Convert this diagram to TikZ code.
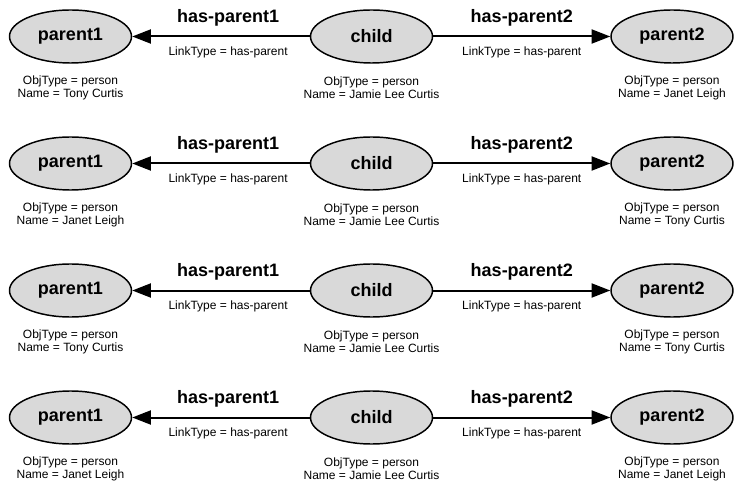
\documentclass[tikz,border=0pt]{standalone}
\usepackage{fontspec}
\setmainfont{Liberation Sans}
\usetikzlibrary{shapes.geometric, arrows.meta}

\begin{document}
\begin{tikzpicture}[x=0.75pt, y=-0.75pt,
	obj/.style={ellipse, draw, line width=1.1pt, fill=black!15, minimum width=91.5pt, minimum height=39.75pt, inner sep=0pt, font=\fontsize{13.5}{16}\selectfont\bfseries},
	info/.style={align=center, inner sep=0pt, font=\fontsize{9}{9.9}\selectfont},
	link/.style={line width=1.5pt, -{Triangle[length=14pt, width=10.5pt]}},
	rel/.style={above=7pt, inner sep=0pt, font=\fontsize{13.5}{16}\selectfont\bfseries},
	ltype/.style={below=7pt, inner sep=0pt, font=\fontsize{9}{11}\selectfont}]
	\useasboundingbox (0,0) rectangle (742,488);

	\node[obj] (P1a) at (70.5,36.5) {parent1};
	\node[obj] (Ca) at (371.5,36.5) {child};
	\node[obj] (P2a) at (672,36.5) {parent2};
	\node[info] (P1aI) at (70.5,88) {ObjType = person\\Name = Tony Curtis};
	\node[info] (CaI) at (371.5,88) {ObjType = person\\Name = Jamie Lee Curtis};
	\node[info] (P2aI) at (672,88) {ObjType = person\\Name = Janet Leigh};
	\draw[link] (Ca) -- node[pos=0.46, rel] {has-parent1} node[pos=0.46, ltype] {LinkType = has-parent} (P1a);
	\draw[link] (Ca) -- node[midway, rel] {has-parent2} node[midway, ltype] {LinkType = has-parent} (P2a);

	\node[obj] (P1b) at (70.5,163.5) {parent1};
	\node[obj] (Cb) at (371.5,163.5) {child};
	\node[obj] (P2b) at (672,163.5) {parent2};
	\node[info] (P1bI) at (70.5,215) {ObjType = person\\Name = Janet Leigh};
	\node[info] (CbI) at (371.5,215) {ObjType = person\\Name = Jamie Lee Curtis};
	\node[info] (P2bI) at (672,215) {ObjType = person\\Name = Tony Curtis};
	\draw[link] (Cb) -- node[pos=0.46, rel] {has-parent1} node[pos=0.46, ltype] {LinkType = has-parent} (P1b);
	\draw[link] (Cb) -- node[midway, rel] {has-parent2} node[midway, ltype] {LinkType = has-parent} (P2b);

	\node[obj] (P1c) at (70.5,290.5) {parent1};
	\node[obj] (Cc) at (371.5,290.5) {child};
	\node[obj] (P2c) at (672,290.5) {parent2};
	\node[info] (P1cI) at (70.5,342) {ObjType = person\\Name = Tony Curtis};
	\node[info] (CcI) at (371.5,342) {ObjType = person\\Name = Jamie Lee Curtis};
	\node[info] (P2cI) at (672,342) {ObjType = person\\Name = Tony Curtis};
	\draw[link] (Cc) -- node[pos=0.46, rel] {has-parent1} node[pos=0.46, ltype] {LinkType = has-parent} (P1c);
	\draw[link] (Cc) -- node[midway, rel] {has-parent2} node[midway, ltype] {LinkType = has-parent} (P2c);

	\node[obj] (P1d) at (70.5,417.5) {parent1};
	\node[obj] (Cd) at (371.5,417.5) {child};
	\node[obj] (P2d) at (672,417.5) {parent2};
	\node[info] (P1dI) at (70.5,469) {ObjType = person\\Name = Janet Leigh};
	\node[info] (CdI) at (371.5,469) {ObjType = person\\Name = Jamie Lee Curtis};
	\node[info] (P2dI) at (672,469) {ObjType = person\\Name = Janet Leigh};
	\draw[link] (Cd) -- node[pos=0.46, rel] {has-parent1} node[pos=0.46, ltype] {LinkType = has-parent} (P1d);
	\draw[link] (Cd) -- node[midway, rel] {has-parent2} node[midway, ltype] {LinkType = has-parent} (P2d);
\end{tikzpicture}
\end{document}
